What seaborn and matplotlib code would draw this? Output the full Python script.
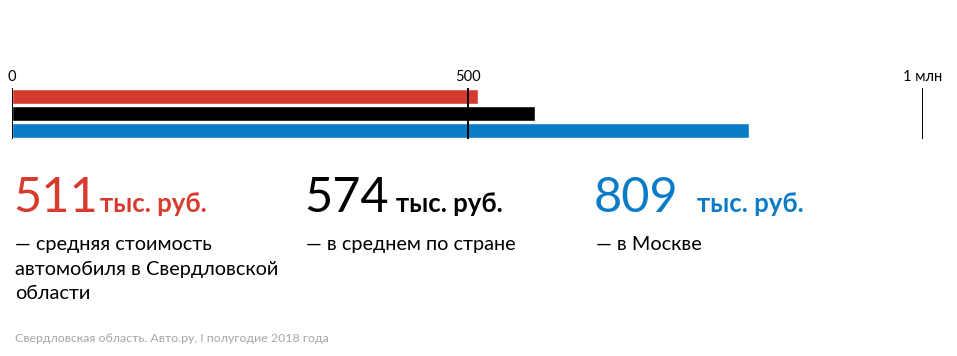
import matplotlib
matplotlib.use("Agg")
import matplotlib.pyplot as plt
import seaborn as sns
import pandas as pd

# ---- data ----
categories = ["Свердловская область", "Россия", "Москва"]
values = [511, 574, 809]
colors = ["#d63b2e", "#000000", "#0a7bc7"]
tick_values = [0, 500, 1000]
tick_labels = ["0", "500", "1 млн"]
big_numbers = ["511", "574", "809"]
unit = "тыс. руб."
descriptions = [
    ["— средняя стоимость", "автомобиля в Свердловской", "области"],
    ["— в среднем по стране"],
    ["— в Москве"],
]
source = "Свердловская область. Авто.ру, I полугодие 2018 года"

sns.set_theme(style="white")
plt.rcParams["font.family"] = ["Lato", "DejaVu Sans"]

W, H = 957, 356
fig = plt.figure(figsize=(W / 100, H / 100), dpi=100)
fig.patch.set_facecolor("white")

def fx(px):
    return px / W

def fy(py):
    return 1 - py / H

# axes: x 12..923 px, y 88..139 px
ax = fig.add_axes([fx(12), fy(139), fx(923) - fx(12), (139 - 88) / H])
df = pd.DataFrame({"cat": categories, "val": values})
sns.barplot(data=df, y="cat", x="val", hue="cat", palette=colors,
            orient="h", width=0.84, legend=False, ax=ax, saturation=1)
ax.set_xlim(0, 1000)
ax.set_ylim(2.5, -0.5)
for s in ax.spines.values():
    s.set_visible(False)
ax.set_xlabel("")
ax.set_ylabel("")
ax.set_yticks([])
ax.xaxis.tick_top()
ax.set_xticks(tick_values)
ax.set_xticklabels(tick_labels, fontsize=10.5, color="#000000")
ax.tick_params(axis="x", length=0, pad=3)
for tv in tick_values:
    ax.axvline(tv, color="#000000", lw=1.4, zorder=5)
ax.set_facecolor("none")

# ---- text blocks ----
num_x = [13, 304, 594]
unit_x = [100, 396, 697]
for i in range(3):
    fig.text(fx(num_x[i]), fy(212), big_numbers[i], fontsize=35,
             fontweight="normal", color=colors[i], va="baseline", ha="left")
    fig.text(fx(unit_x[i]), fy(212), unit, fontsize=18.5,
             fontweight="bold", color=colors[i], va="baseline", ha="left")
    for j, line in enumerate(descriptions[i]):
        fig.text(fx(num_x[i] + 2), fy(250 + 24.5 * j), line, fontsize=14.3,
                 color="#000000", va="baseline", ha="left")

fig.text(fx(15), fy(342), source, fontsize=8.9, color="#a6a6a6",
         va="baseline", ha="left")

fig.savefig("out.png", dpi=100, facecolor="white")
